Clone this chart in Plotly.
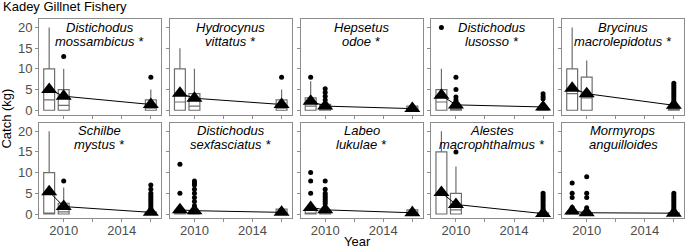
import plotly.graph_objects as go

# ---------------- data ----------------
years = [2009, 2010, 2016]

name_line1 = ["Distichodus", "Hydrocynus", "Hepsetus", "Distichodus", "Brycinus",
              "Schilbe", "Distichodus", "Labeo", "Alestes", "Mormyrops"]
name_line2 = ["mossambicus *", "vittatus *", "odoe *", "lusosso *", "macrolepidotus *",
              "mystus *", "sexfasciatus *", "lukulae *", "macrophthalmus *", "anguilloides"]

q1_vals = [[0, 0, 0]] * 10
median_vals = [
    [2.5, 1.2, 0.5], [2, 1, 0.5], [1, 0.3, 0], [2, 0, 0], [4, 3, 0],
    [0, 0.5, 0], [0, 0, 0], [0, 0, 0], [5, 1, 0], [0, 0, 0],
]
q3_vals = [
    [10, 5, 2.5], [10, 4, 2.5], [3, 1.4, 1], [5, 0.5, 0.5], [10, 8, 0.5],
    [10, 2.6, 0.5], [0.3, 0.3, 1.2], [1, 0.5, 1], [15, 5, 0.3], [0.3, 0.3, 0.3],
]
upper_vals = [
    [20, 10, 5], [15, 10, 5], [7, 2, 2], [10, 1.5, 1.5], [20, 12, 1.2],
    [20, 6.4, 0.8], [1, 1, 2], [1.5, 1.5, 2], [20, 11.5, 0.5], [1, 1, 0.8],
]
mean_vals = [
    [5.0, 3.4, 1.4], [4.1, 2.9, 1.4], [2.2, 1.0, 0.4], [3.6, 1.3, 0.8], [5.3, 4.0, 1.2],
    [5.4, 1.8, 0.4], [1.0, 0.8, 0.4], [1.6, 1.0, 0.3], [5.2, 2.3, 0.1], [0.7, 0.3, 0.2],
]
outliers = [
    [[], [13], [8]],
    [[], [], [8]],
    [[8], [2.5, 3.4, 4.3, 5.2], []],
    [[20], [2.5, 3.2, 5, 8], [2.8, 3.3, 4]],
    [[], [], [1.5, 2, 2.5, 3, 3.5, 4, 4.5, 5, 5.5, 6, 6.5]],
    [[], [8], [1, 1.5, 2, 2.5, 3, 3.5, 4, 4.5, 5, 6, 7]],
    [[5, 12], [2, 3, 4, 5, 6, 7, 7.5, 8], []],
    [[5, 8, 10], [2.5, 3, 3.5, 4, 4.5, 5, 6, 8], []],
    [[], [15], [1, 1.5, 2, 2.5, 3, 3.5, 4, 4.5, 5]],
    [[1.6, 4, 5, 7.5], [1.5, 4, 5, 9], [1, 1.5, 2, 2.5, 3, 3.5, 4, 4.5, 5]],
]

x_tickvals = [2010, 2012, 2014, 2016]
x_ticktext = ["2010", "", "2014", ""]
y_tickvals = [0, 5, 10, 15, 20]
y_ticktext = ["0", "5", "10", "15", "20"]

title_text = "Kadey Gillnet Fishery"
ylabel_text = "Catch (kg)"
xlabel_text = "Year"

# ---------------- layout geometry ----------------
W, H = 685, 251
col_left = [39 + c * 130.75 for c in range(5)]
panel_w = 122
row_top = [19, 124]
panel_h = 97

FONT = "Liberation Sans, Arial, sans-serif"
BORDER = "#8c8c8c"
BOXLINE = "#6e6e6e"
TICKFONT = dict(family=FONT, size=13, color="#4d4d4d")

fig = go.Figure()
layout_axes = {}
annotations = []

for i in range(10):
    r, c = divmod(i, 5)
    ax = "" if i == 0 else str(i + 1)
    xref, yref = "x" + ax, "y" + ax

    fig.add_trace(go.Box(
        x=years, q1=q1_vals[i], median=median_vals[i], q3=q3_vals[i],
        lowerfence=q1_vals[i], upperfence=upper_vals[i],
        width=0.75, whiskerwidth=0, boxpoints=False,
        fillcolor="white", line=dict(color=BOXLINE, width=1.2),
        xaxis=xref, yaxis=yref, showlegend=False, hoverinfo="skip",
    ))
    ox, oy = [], []
    for yr, pts in zip(years, outliers[i]):
        ox += [yr] * len(pts)
        oy += pts
    fig.add_trace(go.Scatter(
        x=ox, y=oy, mode="markers",
        marker=dict(color="black", size=5),
        xaxis=xref, yaxis=yref, showlegend=False, hoverinfo="skip",
    ))
    fig.add_trace(go.Scatter(
        x=years, y=mean_vals[i], mode="lines+markers",
        line=dict(color="black", width=1),
        marker=dict(symbol="triangle-up", size=14, color="black"),
        xaxis=xref, yaxis=yref, showlegend=False, hoverinfo="skip",
    ))

    left = col_left[c]
    top = row_top[r]
    layout_axes["xaxis" + ax] = dict(
        domain=[left / W, (left + panel_w) / W], range=[2008.3, 2016.7],
        anchor=yref, tickvals=x_tickvals, ticktext=x_ticktext,
        showticklabels=(r == 1), ticks="outside", ticklen=3, tickcolor=BORDER,
        ticklabelstandoff=-3,
        showline=True, mirror=True, linecolor=BORDER, linewidth=1,
        showgrid=False, zeroline=False, tickfont=TICKFONT,
    )
    layout_axes["yaxis" + ax] = dict(
        domain=[1 - (top + panel_h) / H, 1 - top / H], range=[-1.05, 22.1],
        anchor=xref, tickvals=y_tickvals, ticktext=y_ticktext,
        showticklabels=(c == 0), ticks="outside", ticklen=3, tickcolor=BORDER,
        showline=True, mirror=True, linecolor=BORDER, linewidth=1,
        showgrid=False, zeroline=False, tickfont=TICKFONT,
    )
    cx = (left + panel_w / 2) / W
    for k, (txt, dy) in enumerate([(name_line1[i], 8.5), (name_line2[i], 22.5)]):
        annotations.append(dict(
            text="<i>" + txt + "</i>", x=cx, y=1 - (top + dy) / H,
            xref="paper", yref="paper", xanchor="center", yanchor="middle",
            showarrow=False, font=dict(family=FONT, size=13, color="black"),
        ))

annotations.append(dict(text=title_text, x=1 / W, y=1 - 7 / H, xref="paper", yref="paper",
                        xanchor="left", yanchor="middle", showarrow=False,
                        font=dict(family=FONT, size=13, color="black")))
annotations.append(dict(text=ylabel_text, x=7 / W, y=1 - 120 / H, xref="paper", yref="paper",
                        xanchor="center", yanchor="middle", textangle=-90, showarrow=False,
                        font=dict(family=FONT, size=13, color="black")))
annotations.append(dict(text=xlabel_text, x=357 / W, y=1 - 244 / H, xref="paper", yref="paper",
                        xanchor="center", yanchor="middle", showarrow=False,
                        font=dict(family=FONT, size=13, color="black")))

fig.update_layout(
    width=W, height=H, margin=dict(l=0, r=0, t=0, b=0),
    paper_bgcolor="white", plot_bgcolor="white",
    annotations=annotations, **layout_axes,
)

fig.write_html("out.html", config={"displayModeBar": False},
               post_script="document.body.style.margin='0px';document.body.style.overflow='hidden';")
